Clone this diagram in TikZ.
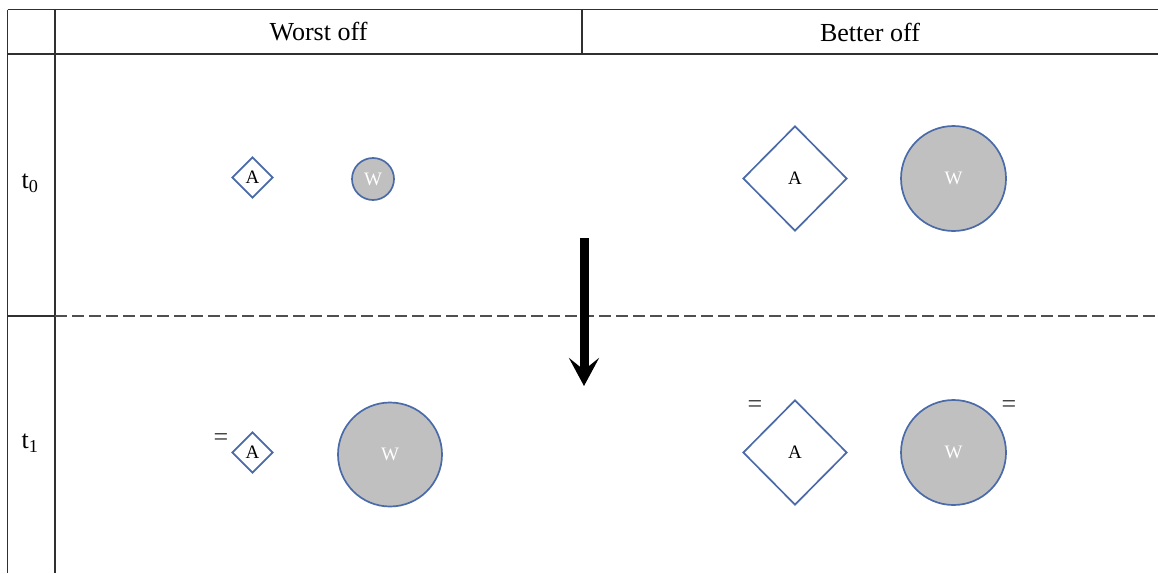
\documentclass[tikz,border=0pt]{standalone}
\usepackage{fontspec}
\setmainfont{Liberation Serif}
\usetikzlibrary{shapes.geometric,arrows.meta}
\definecolor{shapeblue}{HTML}{4A6AA8}
\definecolor{wgray}{HTML}{C0C0C0}
\definecolor{gridline}{HTML}{303030}
\tikzset{
  gridln/.style={draw=gridline,line width=1.6pt},
  dashln/.style={draw=gridline!85,line width=1.5pt,dash pattern=on 12pt off 5pt},
  head/.style={font=\fontsize{26}{30}\selectfont,inner sep=0pt},
  rowlab/.style={font=\fontsize{26}{30}\selectfont,inner sep=0pt},
  abox/.style={diamond,draw=shapeblue,line width=1.7pt,fill=white,inner sep=0pt,
     font=\fontsize{19}{22}\selectfont,text=black},
  wcirc/.style={circle,draw=shapeblue,line width=1.7pt,fill=wgray,inner sep=0pt,
     font=\fontsize{19}{22}\selectfont,text=white},
  eqsign/.style={font=\fontsize{26}{28}\selectfont,inner sep=0pt,text=gridline},
  bigarrow/.style={line width=9pt,-{Stealth[length=28pt,width=30pt,inset=12pt]}}
}
\begin{document}
\begin{tikzpicture}[x=1pt,y=-1pt]
\useasboundingbox (0,0) rectangle (1158,573);
% table grid
\coordinate (tl) at (7.5,9.5);
\coordinate (tr) at (1158,9.5);
\coordinate (hl) at (7.5,54);
\coordinate (hr) at (1158,54);
\coordinate (bl) at (7.5,573);
\coordinate (c1t) at (55,9.5);
\coordinate (c1b) at (55,573);
\coordinate (c2t) at (582,9.5);
\coordinate (c2b) at (582,54);
\coordinate (ml) at (7.5,316);
\coordinate (mm) at (55,316);
\coordinate (mr) at (1158,316);
\draw[gridln] (tl) -- (tr);
\draw[gridln] (hl) -- (hr);
\draw[gridln] (tl) -- (bl);
\draw[gridln] (c1t) -- (c1b);
\draw[gridln] (c2t) -- (c2b);
\draw[gridln] (ml) -- (mm);
\draw[dashln] (mm) -- (mr);
% headers
\node[head] (hw) at (318.5,32) {Worst off};
\node[head] (hb) at (870,32) {Better off};
% row labels
\node[rowlab] (t0) at (30,183) {t\textsubscript{0}};
\node[rowlab] (t1) at (30,443) {t\textsubscript{1}};
% t0 shapes
\node[abox,minimum width=41pt,minimum height=41pt] (a0w) at (252.5,177.5) {A};
\node[wcirc,minimum size=42pt] (w0w) at (373,179) {W};
\node[abox,minimum width=104pt,minimum height=105pt] (a0b) at (795,178.5) {A};
\node[wcirc,minimum size=105pt] (w0b) at (953.5,178.5) {W};
% t1 shapes
\node[abox,minimum width=41pt,minimum height=41pt] (a1w) at (252.5,452.5) {A};
\node[wcirc,minimum size=104pt] (w1w) at (390,454.5) {W};
\node[abox,minimum width=104pt,minimum height=105pt] (a1b) at (795,452.5) {A};
\node[wcirc,minimum size=105pt] (w1b) at (953.5,452.5) {W};
% equals signs
\node[eqsign] (e1) at (221,440) {=};
\node[eqsign] (e2) at (755,407) {=};
\node[eqsign] (e3) at (1009,407) {=};
% arrow
\coordinate (arrS) at (584,238);
\coordinate (arrE) at (584,386);
\draw[bigarrow] (arrS) -- (arrE);
\end{tikzpicture}
\end{document}
